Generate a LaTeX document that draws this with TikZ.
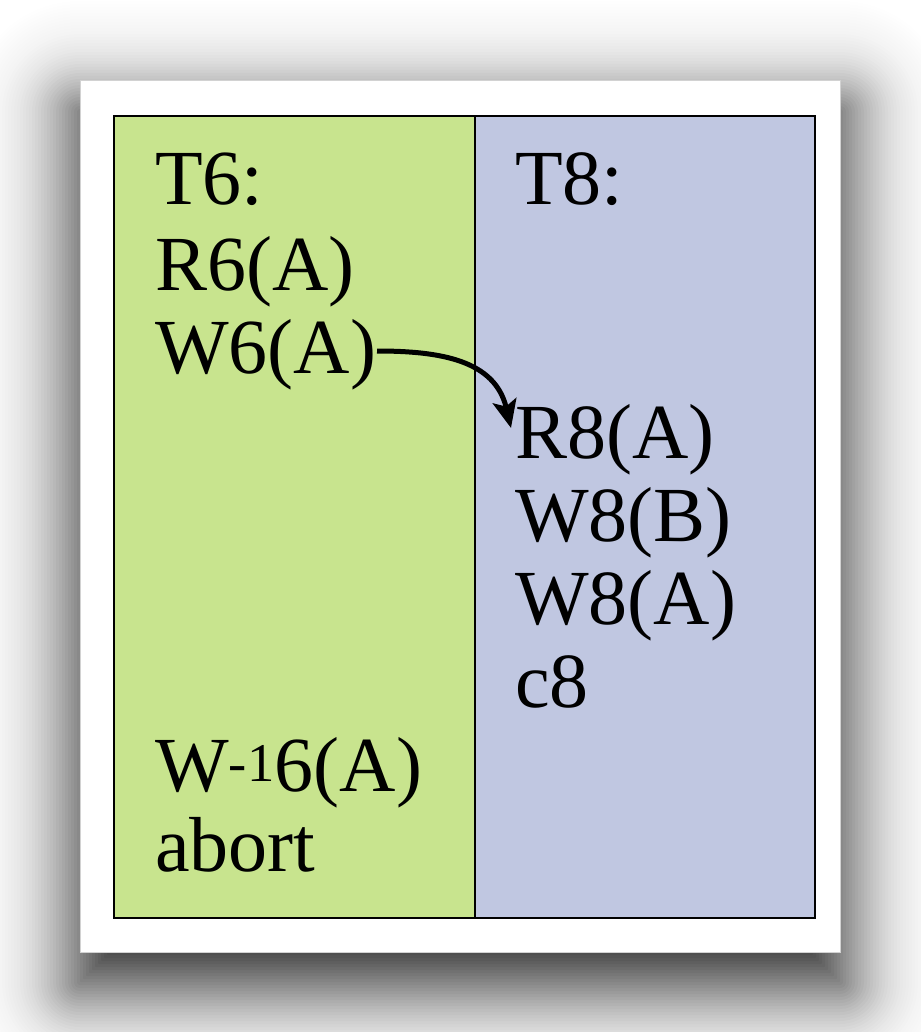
\documentclass[tikz,border=0pt]{standalone}
\usepackage{fontspec}
\setmainfont{Liberation Serif}
\usepackage{tikz}
\usetikzlibrary{arrows.meta}
\definecolor{tgreen}{RGB}{200,228,142}
\definecolor{tblue}{RGB}{192,199,225}
\begin{document}
\begin{tikzpicture}[x=1pt,y=-1pt,
  op/.style={anchor=base west,inner sep=0pt,font=\fontsize{78}{84}\selectfont},
  col/.style={draw=black,line width=2pt}]
\useasboundingbox (0,0) rectangle (920,1032);
\fill[white] (0,0) rectangle (920,1032);
% soft shadow (logistic profile)
\foreach \d in {120,117,...,-90}{
  \pgfmathsetmacro{\Dn}{0.94/(1+exp(0.034*\d))}
  \pgfmathsetmacro{\Dp}{0.94/(1+exp(0.034*(\d+3)))}
  \pgfmathsetmacro{\opac}{(\Dn-\Dp)/(1-\Dp)}
  \pgfmathsetmacro{\rc}{max(\d,1)}
  \fill[black,opacity=\opac,rounded corners=\rc] (80-\d,112-\d) rectangle (840+\d,982+\d);
}
\fill[white] (80,80) rectangle (840,952);
\draw[gray!35,line width=0.8pt] (80,80) rectangle (840,952);
\fill[tgreen] (114,116) rectangle (475,918);
\fill[tblue] (475,116) rectangle (815,918);
\draw[col] (114,116) rectangle (815,918);
\draw[col] (475,116) -- (475,918);
% T6
\node[op] (t6) at (155,205) {T6:};
\node[op] (r6) at (155,290) {R6(A)};
\node[op] (w6) at (155,373) {W6(A)};
\node[op] (wi6) at (155,791) {W\textsuperscript{-1}6(A)};
\node[op] (ab) at (155,871) {abort};
% T8
\node[op] (t8) at (515,205) {T8:};
\node[op] (r8) at (515,458) {R8(A)};
\node[op] (w8b) at (515,541) {W8(B)};
\node[op] (w8a) at (515,624) {W8(A)};
\node[op] (c8) at (515,707) {c8};
\coordinate (s) at (377,351);
\coordinate (e) at (511,428);
\draw[line width=5pt,-{Stealth[length=28pt,width=24pt,inset=6pt]}] (s) .. controls (440,351) and (495,360) .. (e);
\end{tikzpicture}
\end{document}
